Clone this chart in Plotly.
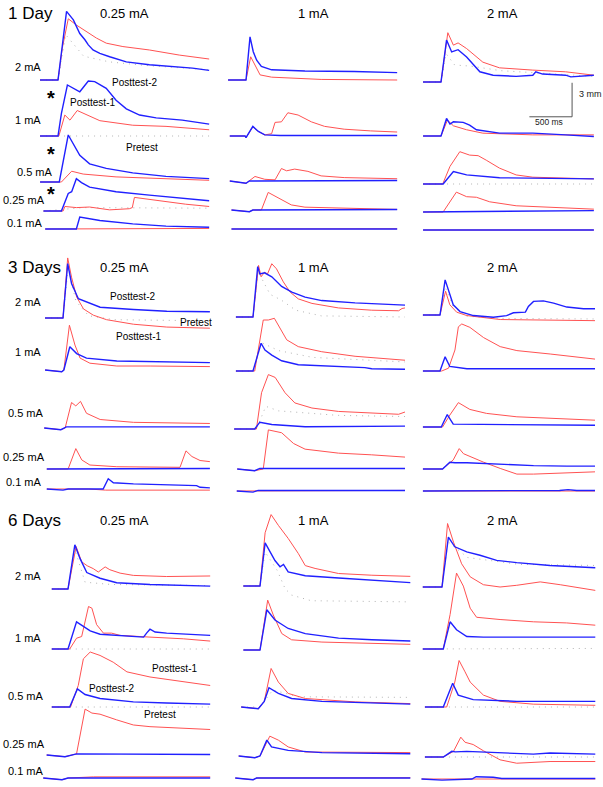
import plotly.graph_objects as go

# Figure geometry (pixels) and the scale bar of the original (500 ms, 3 mm)
W, H = 603, 787
SCALE_MS, SCALE_MM = 500, 3
PX_PER_MS = 42.7 / SCALE_MS
PX_PER_MM = 34.0 / SCALE_MM

SECTIONS = ["1 Day", "3 Days", "6 Days"]
COLUMNS = ["0.25 mA", "1 mA", "2 mA"]          # training current
ROWS = ["2 mA", "1 mA", "0.5 mA", "0.25 mA", "0.1 mA"]   # test current

# ---- traces: (time in ms from onset, amplitude in mm) ----
# 1 Day, 0.25 mA
D1_025_R2_RED = [(-210, 0), (0, 0), (50, 2.8), (120, 5.4), (215, 4.85), (335, 4.3), (450, 3.7), (565, 3.25), (760, 2.95), (1070, 2.65), (1420, 2.2), (1770, 1.85)]
D1_025_R2_BLUE = [(-210, 0), (0, 0), (50, 3.0), (100, 6.05), (180, 5.3), (255, 4.1), (315, 3.55), (355, 3.1), (410, 2.65), (490, 2.35), (605, 2.05), (800, 1.6), (1070, 1.35), (1340, 1.2), (1575, 1.05), (1770, 0.85)]
D1_025_R2_DOT = [(-210, 0), (0, 0), (90, 4.0), (300, 2.1), (600, 1.6), (1000, 1.3), (1770, 0.9)]
D1_025_R1_RED = [(-210, 0), (10, 0), (80, 1.85), (140, 1.4), (225, 2.25), (335, 1.85), (490, 1.35), (875, 0.95), (1265, 0.85), (1770, 0.55)]
D1_025_R1_BLUE = [(-210, 0), (0, 0), (40, 2.0), (110, 4.5), (255, 3.9), (355, 4.85), (430, 4.8), (490, 4.5), (565, 4.2), (680, 3.15), (800, 2.4), (955, 1.85), (1150, 1.6), (1455, 1.4), (1770, 1.05)]
D1_025_R1_DOT = [(-210, 0), (1770, 0)]
D1_025_R05_RED = [(-210, 0), (40, 0), (160, 0.95), (295, 0.7), (680, 0.45), (1770, 0.15)]
D1_025_R05_BLUE = [(-210, 0), (15, 0), (120, 4.15), (180, 3.4), (255, 2.35), (370, 1.6), (565, 1.2), (875, 0.8), (1265, 0.5), (1770, 0.3)]
D1_025_R025_RED = [(-170, 0), (60, 0), (80, 0.4), (215, 0.3), (370, 0.35), (605, 0.1), (835, 0.2), (870, 0.3), (895, 1.2), (990, 1.1), (1110, 1.0), (1265, 0.8), (1495, 0.6), (1770, 0.4)]
D1_025_R025_BLUE = [(-170, 0), (40, 0), (120, 1.55), (160, 1.7), (215, 2.85), (275, 2.5), (370, 2.1), (680, 1.7), (1070, 1.4), (1455, 1.1), (1770, 0.9)]
D1_025_R025_DOT = [(-170, 0), (300, 0.3), (1770, 0.25)]
D1_025_R01_RED = [(-150, 0), (200, 0), (300, 0.05), (1770, 0.05)]
D1_025_R01_BLUE = [(-150, 0), (215, 0), (255, 1.05), (335, 0.95), (490, 0.75), (875, 0.45), (1265, 0.25), (1770, 0.15)]

# 1 Day, 1 mA
D1_1_R2_RED = [(-210, 0), (0, 0), (55, 2.05), (105, 1.35), (165, 0.45), (300, 0.25), (880, 0.05), (1770, 0)]
D1_1_R2_BLUE = [(-210, 0), (0, 0), (47, 3.8), (85, 2.5), (125, 1.75), (180, 1.2), (300, 0.9), (690, 0.8), (1265, 0.75), (1770, 0.65)]
D1_1_R1_RED = [(-190, 0), (-10, 0), (0, -0.15), (80, 0.8), (145, 0.4), (220, 0.1), (300, 0.2), (340, 1.2), (415, 1.25), (490, 2.05), (610, 1.85), (765, 1.25), (920, 0.85), (1150, 0.6), (1460, 0.45), (1770, 0.35)]
D1_1_R1_BLUE = [(-190, 0), (-10, 0), (0, -0.15), (80, 0.85), (145, 0.4), (220, 0.1), (400, 0.05), (1770, 0.05)]
D1_1_R05_RED = [(-190, 0), (0, -0.2), (105, 0.4), (220, 0.15), (340, 0.1), (415, 1.1), (475, 0.9), (570, 1.05), (725, 0.85), (880, 0.45), (1150, 0.3), (1770, 0.2)]
D1_1_R05_BLUE = [(-190, 0), (0, -0.2), (40, 0), (1770, 0.05)]
D1_1_R025_RED = [(-170, 0), (40, -0.15), (80, 0), (180, 0), (260, 1.55), (375, 1.05), (530, 0.45), (690, 0.25), (1770, 0.05)]
D1_1_R025_BLUE = [(-170, 0), (40, -0.15), (80, 0), (1770, 0.05)]
D1_1_R01_RED = [(-170, 0), (1770, 0.02)]
D1_1_R01_BLUE = [(-170, 0), (1770, 0)]

# 1 Day, 2 mA
D1_2_R2_RED = [(-210, 0), (0, 0), (80, 4.35), (145, 3.25), (200, 3.45), (300, 2.95), (490, 1.75), (685, 1.25), (1075, 1.05), (1460, 0.9), (1790, 0.6)]
D1_2_R2_BLUE = [(-210, 0), (0, 0), (65, 3.7), (125, 2.65), (200, 2.85), (300, 2.2), (455, 0.9), (610, 0.6), (880, 0.5), (1075, 0.6), (1110, 0.9), (1190, 0.7), (1460, 0.6), (1520, 0.45), (1790, 0.6)]
D1_2_R2_DOT = [(-210, 0), (0, 0), (60, 2.5), (160, 1.5), (350, 1.4), (700, 1.0), (1790, 0.5)]
D1_2_R1_RED = [(-210, 0), (0, 0), (75, 1.4), (145, 0.9), (300, 0.55), (490, 0.25), (1075, 0.1), (1790, 0.1)]
D1_2_R1_BLUE = [(-210, 0), (0, 0), (65, 1.55), (105, 1.05), (145, 1.25), (260, 1.2), (335, 0.95), (415, 0.55), (685, 0.25), (1075, 0.25), (1460, 0.1), (1790, -0.05)]
D1_2_R05_RED = [(-210, 0), (20, 0), (105, 1.55), (220, 2.85), (335, 2.55), (435, 2.5), (530, 2.1), (685, 1.4), (880, 0.8), (1075, 0.6), (1790, 0.45)]
D1_2_R05_BLUE = [(-210, 0), (25, 0), (145, 1.1), (300, 0.8), (685, 0.55), (1790, 0.45)]
D1_2_R05_DOT = [(-210, 0), (1790, 0)]
D1_2_R025_RED = [(-210, 0), (25, 0), (180, 1.75), (300, 1.35), (415, 1.3), (570, 0.9), (880, 0.55), (1265, 0.4), (1790, 0.25)]
D1_2_R025_BLUE = [(-210, 0), (1000, 0.05), (1790, 0.12)]
D1_2_R01_RED = [(-210, 0), (1790, 0)]
D1_2_R01_BLUE = [(-210, 0), (900, 0.03), (1790, 0)]

# 3 Days, 0.25 mA
D3_025_R2_RED = [(-210, 0), (0, 0), (55, 5.3), (100, 3.6), (160, 1.85), (240, 0.8), (355, 0.25), (510, -0.15), (825, -0.55), (1215, -0.8), (1720, -0.9)]
D3_025_R2_BLUE = [(-210, 0), (0, 0), (55, 4.8), (100, 3.05), (180, 1.7), (275, 1.4), (435, 0.95), (825, 0.75), (1215, 0.6), (1720, 0.55)]
D3_025_R2_DOT = [(-210, 0), (0, 0), (60, 4.5), (150, 1.5), (300, 0.2), (600, -0.15), (1720, -0.25)]
D3_025_R1_RED = [(-210, 0), (-15, -0.15), (10, 0), (75, 3.95), (140, 2.2), (200, 1.05), (315, 0.6), (630, 0.35), (1020, 0.35), (1720, 0.3)]
D3_025_R1_BLUE = [(-210, 0), (-15, -0.15), (10, 0), (80, 2.05), (160, 1.45), (275, 1.05), (630, 0.8), (1215, 0.7), (1720, 0.65)]
D3_025_R05_RED = [(-220, 0), (-25, -0.15), (25, 0), (100, 2.25), (150, 1.95), (205, 2.35), (275, 1.3), (435, 0.75), (825, 0.5), (1720, 0.4)]
D3_025_R05_BLUE = [(-220, 0), (-25, -0.15), (40, 0.1), (1720, 0.1)]
D3_025_R025_RED = [(-190, 0), (60, 0), (150, 1.8), (220, 0.8), (315, 0.35), (630, 0.2), (1370, 0.15), (1440, 1.6), (1510, 1.1), (1605, 0.75), (1720, 0.65)]
D3_025_R025_BLUE = [(-190, 0), (1720, 0.05)]
D3_025_R01_RED = [(-190, 0), (300, 0), (500, -0.1), (1720, -0.1)]
D3_025_R01_BLUE = [(-190, 0), (0, -0.1), (60, 0), (470, 0), (530, 0.9), (590, 0.55), (825, 0.45), (1215, 0.4), (1565, 0.3), (1605, 0.15), (1720, 0.1)]

# 3 Days, 1 mA
D3_1_R2_RED = [(-200, 0), (0, 0), (65, 4.55), (95, 3.55), (135, 3.95), (170, 3.8), (220, 4.7), (275, 4.25), (355, 3.1), (435, 2.2), (530, 1.6), (690, 1.2), (1000, 0.8), (1390, 0.6), (1705, 0.55), (1745, 0.75), (1780, 0.8)]
D3_1_R2_BLUE = [(-200, 0), (0, 0), (55, 4.45), (80, 3.8), (135, 3.9), (220, 3.55), (335, 2.7), (455, 2.2), (610, 1.75), (805, 1.45), (1195, 1.25), (1585, 1.1), (1780, 1.05)]
D3_1_R2_DOT = [(-200, 0), (0, 0), (60, 4.0), (200, 2.0), (330, 1.5), (500, 0.6), (800, 0.1), (1780, 0)]
D3_1_R1_RED = [(-200, 0), (20, 0), (120, 4.5), (180, 4.5), (250, 4.65), (315, 3.75), (395, 2.75), (530, 2.15), (805, 1.7), (1195, 1.3), (1585, 1.1), (1780, 0.95)]
D3_1_R1_BLUE = [(-200, 0), (0, 0), (95, 2.45), (140, 1.85), (220, 1.4), (335, 0.9), (530, 0.55), (1000, 0.4), (1310, 0.3), (1390, 0.2), (1780, 0.15)]
D3_1_R1_DOT = [(-200, 0), (0, 0), (100, 2.5), (300, 1.8), (700, 1.2), (1780, 0.8)]
D3_1_R05_RED = [(-220, 0), (40, 0), (100, 3.2), (180, 4.8), (260, 4.55), (375, 3.2), (490, 2.3), (690, 1.85), (1000, 1.55), (1390, 1.4), (1705, 1.3), (1780, 1.5)]
D3_1_R05_BLUE = [(-220, 0), (20, 0), (80, 0.6), (220, 0.4), (610, 0.2), (1780, 0.25)]
D3_1_R05_DOT = [(-220, 0), (40, 0), (150, 2.0), (300, 1.6), (1000, 1.2), (1780, 1.1)]
D3_1_R025_RED = [(-185, 0), (20, -0.15), (120, 0), (180, 3.45), (335, 3.2), (475, 2.25), (610, 1.75), (1000, 1.4), (1390, 1.25), (1780, 1.05)]
D3_1_R025_BLUE = [(-185, 0), (20, -0.15), (80, 0.05), (1780, 0.05)]
D3_1_R01_RED = [(-190, 0), (1780, 0.05)]
D3_1_R01_BLUE = [(-190, 0), (0, -0.1), (60, 0.05), (1780, 0.05)]

# 3 Days, 2 mA
D3_2_R2_RED = [(-200, 0), (0, 0), (65, 2.1), (115, 0.9), (195, 0.25), (315, -0.05), (705, -0.4), (1095, -0.45), (1815, -0.5)]
D3_2_R2_BLUE = [(-200, 0), (0, 0), (60, 3.1), (100, 2.25), (155, 0.9), (235, 0.3), (390, -0.05), (625, -0.2), (780, -0.05), (860, 0.2), (1000, 0.25), (1035, 0.75), (1095, 1.2), (1210, 1.25), (1330, 1.05), (1485, 0.7), (1680, 0.55), (1815, 0.55)]
D3_2_R2_DOT = [(-200, 0), (0, 0), (60, 2.5), (150, 0.8), (300, -0.1), (700, -0.3), (1815, -0.35)]
D3_2_R1_RED = [(-200, 0), (20, 0), (100, 0.25), (175, 1.85), (215, 3.9), (255, 4.15), (350, 3.85), (510, 2.95), (705, 2.15), (900, 1.8), (1290, 1.5), (1815, 1.05)]
D3_2_R1_BLUE = [(-200, 0), (0, 0), (60, 1.25), (115, 0.4), (315, 0.2), (1815, 0.2)]
D3_2_R05_RED = [(-200, 0), (30, 0), (115, 1.05), (215, 2.15), (350, 1.55), (545, 1.2), (900, 0.9), (1290, 0.75), (1815, 0.6)]
D3_2_R05_BLUE = [(-200, 0), (15, 0), (85, 1.1), (155, 0.25), (1815, 0.15)]
D3_2_R025_RED = [(-200, 0), (30, 0), (155, 0.8), (225, 1.8), (275, 1.35), (350, 1.1), (510, 0.6), (705, 0.05), (900, -0.45), (1095, -0.45), (1485, -0.35), (1815, -0.25)]
D3_2_R025_BLUE = [(-200, 0), (30, 0), (115, 0.6), (175, 0.55), (315, 0.55), (705, 0.4), (1095, 0.3), (1485, 0.25), (1815, 0.25)]
D3_2_R01_RED = [(-200, 0), (1815, 0)]
D3_2_R01_BLUE = [(-200, 0), (1400, 0.05), (1500, 0.12), (1600, 0.05), (1815, 0.05)]

# 6 Days, 0.25 mA
D6_025_R2_RED = [(-190, 0), (0, 0), (95, 3.75), (160, 2.4), (225, 2.05), (295, 1.8), (355, 1.5), (435, 1.95), (490, 1.7), (610, 1.4), (765, 1.2), (1155, 1.1), (1665, 1.15)]
D6_025_R2_BLUE = [(-190, 0), (0, 0), (80, 3.9), (140, 2.7), (220, 1.45), (375, 0.95), (570, 0.55), (960, 0.4), (1665, 0.25)]
D6_025_R2_DOT = [(-190, 0), (0, 0), (80, 3.5), (200, 0.6), (500, 0.4), (1665, 0.3)]
D6_025_R1_RED = [(-190, 0), (20, 0), (100, 0.95), (160, 1.1), (240, 3.75), (280, 3.6), (335, 2.15), (415, 1.4), (510, 1.4), (610, 1.2), (960, 1.05), (1350, 0.9), (1665, 0.7)]
D6_025_R1_BLUE = [(-190, 0), (0, 0), (100, 2.4), (180, 2.0), (260, 1.6), (375, 1.3), (765, 1.1), (885, 1.05), (920, 1.4), (960, 1.75), (1020, 1.5), (1155, 1.4), (1550, 1.25), (1665, 1.2)]
D6_025_R1_DOT = [(-190, 0), (1665, 0)]
D6_025_R05_RED = [(-190, 0), (30, 0), (120, 1.9), (180, 4.25), (260, 4.85), (375, 4.55), (530, 3.95), (690, 3.1), (960, 2.65), (1350, 2.2), (1665, 1.9)]
D6_025_R05_BLUE = [(-190, 0), (20, 0), (110, 1.6), (200, 1.1), (375, 0.75), (765, 0.45), (1155, 0.35), (1665, 0.25)]
D6_025_R05_DOT = [(-190, 0), (1665, 0)]
D6_025_R025_RED = [(-250, 0), (-35, -0.15), (100, 0.1), (200, 4.05), (280, 3.7), (375, 3.6), (570, 3.1), (765, 2.65), (960, 2.5), (1350, 2.35), (1665, 2.25)]
D6_025_R025_BLUE = [(-250, 0), (-35, -0.15), (100, 0.1), (1665, 0.05)]
D6_025_R01_RED = [(-290, 0), (-70, -0.15), (0, 0), (300, 0.1), (1665, 0.1)]
D6_025_R01_BLUE = [(-290, 0), (-70, -0.15), (0, 0), (1665, 0)]

# 6 Days, 1 mA
D6_1_R2_RED = [(-195, 0), (0, 0), (60, 4.7), (130, 6.3), (215, 5.35), (330, 4.2), (450, 2.85), (530, 1.8), (645, 1.55), (920, 1.1), (1310, 0.95), (1760, 0.85)]
D6_1_R2_BLUE = [(-195, 0), (0, 0), (60, 3.8), (115, 3.0), (175, 2.25), (235, 1.7), (275, 1.9), (330, 1.25), (530, 0.9), (920, 0.7), (1310, 0.5), (1760, 0.3)]
D6_1_R2_DOT = [(-195, 0), (0, 0), (60, 3.0), (200, 1.4), (295, -0.25), (370, -0.8), (600, -1.3), (1760, -1.4)]
D6_1_R1_RED = [(-195, 0), (0, 0), (90, 4.4), (155, 3.1), (255, 1.45), (370, 0.9), (725, 0.7), (1760, 0.5)]
D6_1_R1_BLUE = [(-195, 0), (0, 0), (80, 3.55), (175, 2.65), (330, 1.9), (530, 1.45), (920, 1.05), (1310, 0.9), (1760, 0.8)]
D6_1_R05_RED = [(-220, 0), (-20, -0.15), (50, 0.5), (130, 3.4), (215, 2.2), (330, 1.2), (530, 0.75), (1115, 0.45), (1760, 0.3)]
D6_1_R05_BLUE = [(-220, 0), (-20, -0.15), (50, 0.5), (105, 1.7), (215, 1.2), (370, 0.75), (725, 0.5), (1760, 0.25)]
D6_1_R05_DOT = [(-220, 0), (0, 0), (150, 1.5), (450, 0.9), (1760, 0.85)]
D6_1_R025_RED = [(-250, 0), (-60, -0.15), (0, 0), (115, 1.75), (215, 1.4), (330, 0.8), (530, 0.35), (1760, 0.3)]
D6_1_R025_BLUE = [(-250, 0), (-60, -0.15), (0, 0), (80, 1.4), (135, 0.8), (330, 0.5), (725, 0.3), (1760, 0.2)]
D6_1_R01_RED = [(-290, 0), (-80, -0.15), (-40, 0), (1760, 0.02)]
D6_1_R01_BLUE = [(-290, 0), (-80, -0.15), (-40, 0), (1760, 0)]

# 6 Days, 2 mA
D6_2_R2_RED = [(-225, 0), (0, 0), (65, 5.6), (135, 3.95), (230, 2.05), (330, 0.9), (485, 0.2), (680, 0), (875, 0.15), (1150, 0.45), (1385, 0.2), (1795, -0.3)]
D6_2_R2_BLUE = [(-225, 0), (0, 0), (75, 4.4), (150, 3.55), (290, 3.1), (445, 2.8), (640, 2.35), (875, 2.15), (1265, 1.9), (1795, 1.7)]
D6_2_R2_DOT = [(-225, 0), (0, 0), (70, 4.0), (300, 2.6), (900, 2.0), (1795, 1.9)]
D6_2_R1_RED = [(-225, 0), (15, 0), (95, 3.05), (170, 6.7), (250, 5.55), (330, 3.6), (405, 2.8), (680, 2.6), (1070, 2.4), (1460, 2.3), (1795, 2.1)]
D6_2_R1_BLUE = [(-225, 0), (15, 0), (95, 2.4), (170, 1.7), (290, 1.1), (485, 1.05), (1070, 1.05), (1795, 1.05)]
D6_2_R1_DOT = [(-225, 0), (1795, 0.05)]
D6_2_R05_RED = [(-200, 0), (55, 0), (150, 2.2), (200, 4.1), (270, 3.1), (330, 2.2), (485, 1.05), (680, 0.5), (1070, 0.25), (1795, 0.15)]
D6_2_R05_BLUE = [(-200, 0), (15, 0), (125, 2.1), (190, 1.05), (365, 0.65), (875, 0.5), (1795, 0.5)]
D6_2_R05_DOT = [(-200, 0), (1795, 0)]
D6_2_R025_RED = [(-200, 0), (15, 0), (135, 0.5), (220, 1.75), (270, 1.3), (365, 1.1), (485, 0.55), (680, -0.25), (875, -0.55), (1265, -0.4), (1795, -0.4)]
D6_2_R025_BLUE = [(-200, 0), (15, 0), (115, 0.5), (155, 0.45), (290, 0.5), (680, 0.35), (1070, 0.25), (1265, 0.35), (1795, 0.25)]
D6_2_R025_DOT = [(-200, 0), (1795, 0)]
D6_2_R01_RED = [(-240, 0), (1795, 0)]
D6_2_R01_BLUE = [(-240, 0), (0, -0.1), (350, 0), (400, 0.2), (600, 0.15), (700, 0.05), (1795, 0.05)]

# (posttest-1 red, posttest-2 blue, pretest dotted) per panel, rows top to bottom
TRACES = {
    (0, 0): [(D1_025_R2_RED, D1_025_R2_BLUE, D1_025_R2_DOT), (D1_025_R1_RED, D1_025_R1_BLUE, D1_025_R1_DOT),
             (D1_025_R05_RED, D1_025_R05_BLUE, None), (D1_025_R025_RED, D1_025_R025_BLUE, D1_025_R025_DOT),
             (D1_025_R01_RED, D1_025_R01_BLUE, None)],
    (0, 1): [(D1_1_R2_RED, D1_1_R2_BLUE, None), (D1_1_R1_RED, D1_1_R1_BLUE, None),
             (D1_1_R05_RED, D1_1_R05_BLUE, None), (D1_1_R025_RED, D1_1_R025_BLUE, None),
             (D1_1_R01_RED, D1_1_R01_BLUE, None)],
    (0, 2): [(D1_2_R2_RED, D1_2_R2_BLUE, D1_2_R2_DOT), (D1_2_R1_RED, D1_2_R1_BLUE, None),
             (D1_2_R05_RED, D1_2_R05_BLUE, D1_2_R05_DOT), (D1_2_R025_RED, D1_2_R025_BLUE, None),
             (D1_2_R01_RED, D1_2_R01_BLUE, None)],
    (1, 0): [(D3_025_R2_RED, D3_025_R2_BLUE, D3_025_R2_DOT), (D3_025_R1_RED, D3_025_R1_BLUE, None),
             (D3_025_R05_RED, D3_025_R05_BLUE, None), (D3_025_R025_RED, D3_025_R025_BLUE, None),
             (D3_025_R01_RED, D3_025_R01_BLUE, None)],
    (1, 1): [(D3_1_R2_RED, D3_1_R2_BLUE, D3_1_R2_DOT), (D3_1_R1_RED, D3_1_R1_BLUE, D3_1_R1_DOT),
             (D3_1_R05_RED, D3_1_R05_BLUE, D3_1_R05_DOT), (D3_1_R025_RED, D3_1_R025_BLUE, None),
             (D3_1_R01_RED, D3_1_R01_BLUE, None)],
    (1, 2): [(D3_2_R2_RED, D3_2_R2_BLUE, D3_2_R2_DOT), (D3_2_R1_RED, D3_2_R1_BLUE, None),
             (D3_2_R05_RED, D3_2_R05_BLUE, None), (D3_2_R025_RED, D3_2_R025_BLUE, None),
             (D3_2_R01_RED, D3_2_R01_BLUE, None)],
    (2, 0): [(D6_025_R2_RED, D6_025_R2_BLUE, D6_025_R2_DOT), (D6_025_R1_RED, D6_025_R1_BLUE, D6_025_R1_DOT),
             (D6_025_R05_RED, D6_025_R05_BLUE, D6_025_R05_DOT), (D6_025_R025_RED, D6_025_R025_BLUE, None),
             (D6_025_R01_RED, D6_025_R01_BLUE, None)],
    (2, 1): [(D6_1_R2_RED, D6_1_R2_BLUE, D6_1_R2_DOT), (D6_1_R1_RED, D6_1_R1_BLUE, None),
             (D6_1_R05_RED, D6_1_R05_BLUE, D6_1_R05_DOT), (D6_1_R025_RED, D6_1_R025_BLUE, None),
             (D6_1_R01_RED, D6_1_R01_BLUE, None)],
    (2, 2): [(D6_2_R2_RED, D6_2_R2_BLUE, D6_2_R2_DOT), (D6_2_R1_RED, D6_2_R1_BLUE, D6_2_R1_DOT),
             (D6_2_R05_RED, D6_2_R05_BLUE, D6_2_R05_DOT), (D6_2_R025_RED, D6_2_R025_BLUE, D6_2_R025_DOT),
             (D6_2_R01_RED, D6_2_R01_BLUE, None)],
}

# ---- layout (window pixels): onset x per panel, baseline y of each row ----
PANEL_X0 = [[58, 246, 441], [63, 253, 440], [68, 260, 442]]
BASELINES = [
    [[80, 136, 182, 211, 229], [80, 136, 181, 210, 229], [82, 136, 184, 212, 230]],
    [[318, 370, 428, 469, 489], [317, 371, 429, 469, 491], [315, 371, 427, 469, 491]],
    [[589, 649, 707, 755, 778], [586, 650, 707, 756, 778], [587, 649, 707, 757, 779]],
]
SECTION_Y = [14, 267, 520]
COLUMN_XC = [124, 313, 502]
ROW_LABELS = [
    [(43, 67), (43, 120), (55, 172), (47, 200), (45, 223)],
    [(43, 302), (43, 352), (46, 413), (47, 457), (44, 482)],
    [(43, 576), (43, 638), (46, 696), (47, 744), (46, 771)],
]
TAGS = [("Posttest-2", 134, 83), ("Posttest-1", 92, 103), ("Pretest", 142, 147),
        ("Posttest-2", 132, 297), ("Pretest", 196, 322), ("Posttest-1", 138, 337),
        ("Posttest-1", 174, 668), ("Posttest-2", 112, 688), ("Pretest", 160, 714)]
STARS = [(51, 98), (51, 154), (51, 194)]

RED = dict(color="#ff5252", width=1)
BLUE = dict(color="#2020ff", width=1.4)
DOT = dict(color="#b4b4b4", width=1, dash="1px,5px")
FONT = "Arial, 'Liberation Sans', sans-serif"


def axname(prefix, n):
    return prefix if n == 1 else f"{prefix}{n}"


def px(x):
    return x / W


def py(y):
    return 1 - y / H


fig = go.Figure()
axes = {}
for s in range(3):
    for c in range(3):
        p = s * 3 + c + 1
        x0 = PANEL_X0[s][c]
        first_y = (p - 1) * 5 + 1
        axes["xaxis" if p == 1 else f"xaxis{p}"] = dict(
            domain=[0, 1], range=[-x0 / PX_PER_MS, (W - x0) / PX_PER_MS],
            visible=False, fixedrange=True, anchor=axname("y", first_y))
        for r in range(5):
            yn = first_y + r
            b = BASELINES[s][c][r]
            axes["yaxis" if yn == 1 else f"yaxis{yn}"] = dict(
                domain=[0, 1], range=[-(H - b) / PX_PER_MM, b / PX_PER_MM],
                visible=False, fixedrange=True, anchor=axname("x", p))
            red, blue, dot = TRACES[(s, c)][r]
            for pts, style in ((dot, DOT), (red, RED), (blue, BLUE)):
                if pts is None:
                    continue
                fig.add_trace(go.Scatter(
                    x=[t for t, _ in pts], y=[v for _, v in pts], mode="lines",
                    line=style, xaxis=axname("x", p), yaxis=axname("y", yn),
                    hoverinfo="skip", showlegend=False))

# scale bar in the 1 Day / 2 mA panel (top row axes)
sb_x, sb_y = axname("x", 3), axname("y", 11)
sb_t0, sb_v0 = 1035, -3.07
fig.add_shape(type="line", xref=sb_x, yref=sb_y, x0=sb_t0 + SCALE_MS, x1=sb_t0 + SCALE_MS,
              y0=sb_v0, y1=sb_v0 + SCALE_MM, line=dict(color="#555", width=1))
fig.add_shape(type="line", xref=sb_x, yref=sb_y, x0=sb_t0, x1=sb_t0 + SCALE_MS,
              y0=sb_v0, y1=sb_v0, line=dict(color="#555", width=1))

ann = []
for s, name in enumerate(SECTIONS):
    ann.append(dict(text=name, x=px(6), y=py(SECTION_Y[s]), xanchor="left", yanchor="middle",
                    font=dict(size=17, color="black")))
    for c, col in enumerate(COLUMNS):
        ann.append(dict(text=col, x=px(COLUMN_XC[c]), y=py(SECTION_Y[s]), xanchor="center",
                        yanchor="middle", font=dict(size=13, color="black")))
    for r, row in enumerate(ROWS):
        xr, yr = ROW_LABELS[s][r]
        ann.append(dict(text=row, x=px(xr), y=py(yr), xanchor="right", yanchor="middle",
                        font=dict(size=11, color="black")))
for text, xc, yc in TAGS:
    ann.append(dict(text=text, x=px(xc), y=py(yc), xanchor="center", yanchor="middle",
                    font=dict(size=10, color="black")))
for xs, ys in STARS:
    ann.append(dict(text="<b>*</b>", x=px(xs), y=py(ys), xanchor="center", yanchor="middle",
                    font=dict(size=20, color="black")))
ann.append(dict(text="3 mm", x=px(577), y=py(94), xanchor="left", yanchor="middle",
                font=dict(size=9, color="#222")))
ann.append(dict(text="500 ms", x=px(549), y=py(122), xanchor="center", yanchor="middle",
                font=dict(size=8.5, color="#222")))
for a in ann:
    a.update(xref="paper", yref="paper", showarrow=False)

fig.update_layout(
    width=W, height=H, margin=dict(l=0, r=0, t=0, b=0),
    paper_bgcolor="white", plot_bgcolor="rgba(0,0,0,0)",
    font=dict(family=FONT), annotations=ann, showlegend=False, **axes)

# drop the page's default body margin so the figure sits at the window corner
fig.write_html("out.html", config={"displayModeBar": False},
               post_script="document.body.style.margin='0';document.body.style.overflow='hidden';")
